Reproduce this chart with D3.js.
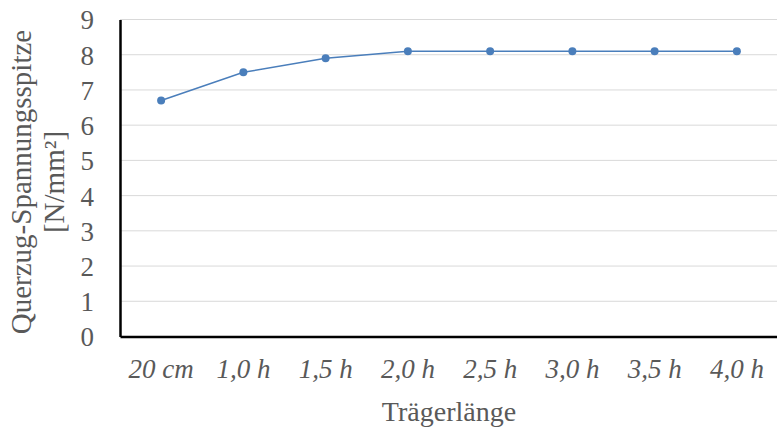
<!DOCTYPE html>
<html>
<head>
<meta charset="utf-8">
<script src="https://cdn.jsdelivr.net/npm/d3@7"></script>
<style>
  body { margin: 0; background: #fff; }
</style>
</head>
<body>
<svg id="dessin" width="777" height="432"></svg>
<script>
let categories = ["20 cm", "1,0 h", "1,5 h", "2,0 h", "2,5 h", "3,0 h", "3,5 h", "4,0 h"];
let valeurs = [6.7, 7.5, 7.9, 8.1, 8.1, 8.1, 8.1, 8.1];
let ticksY = [0, 1, 2, 3, 4, 5, 6, 7, 8, 9];

const police = "'Liberation Serif', 'DejaVu Serif', serif";
const gris = "#595959";
const gauche = 120, droite = 778, haut = 19.5, bas = 336.5;

const svg = d3.select("#dessin");

const x = d3.scaleBand().domain(categories).range([gauche, droite]);
const y = d3.scaleLinear().domain([0, 9]).range([bas, haut]);

// grille
svg.append("g")
  .selectAll("line")
  .data(ticksY.filter(t => t > 0))
  .enter()
  .append("line")
  .attr("x1", gauche).attr("x2", droite)
  .attr("y1", d => y(d)).attr("y2", d => y(d))
  .style("stroke", "#d9d9d9")
  .style("stroke-width", 1);

// axe gauche
const axeG = svg.append("g")
  .attr("transform", `translate(${gauche},0)`)
  .call(d3.axisLeft(y).tickValues(ticksY).tickSize(0).tickPadding(26))
  .attr("font-family", police);
axeG.select(".domain").style("stroke", "#000").style("stroke-width", 2.5);
axeG.selectAll("text").attr("font-size", 27).attr("fill", gris).attr("dy", "0.35em");

// axe bas
const axeB = svg.append("g")
  .attr("transform", `translate(0,${bas})`)
  .call(d3.axisBottom(x).tickSize(0).tickPadding(22))
  .attr("font-family", police);
axeB.select(".domain").style("stroke", "#000").style("stroke-width", 2.5);
axeB.selectAll("text").attr("font-size", 27).attr("font-style", "italic").attr("fill", gris);

// ligne
svg.append("path")
  .datum(valeurs)
  .attr("d", d3.line().x((d, i) => x(categories[i]) + x.bandwidth() / 2).y(d => y(d)))
  .style("fill", "none")
  .style("stroke", "#4a7ebb")
  .style("stroke-width", 1.5);

svg.append("g")
  .selectAll("circle")
  .data(valeurs)
  .enter()
  .append("circle")
  .attr("cx", (d, i) => x(categories[i]) + x.bandwidth() / 2)
  .attr("cy", d => y(d))
  .attr("r", 4)
  .style("fill", "#4a7ebb");

// titres
svg.append("text")
  .attr("x", (gauche + droite) / 2)
  .attr("y", 421)
  .attr("text-anchor", "middle")
  .attr("font-family", police)
  .attr("font-size", 28)
  .attr("fill", gris)
  .text("Trägerlänge");

const titreY = svg.append("text")
  .attr("transform", "translate(0,182) rotate(-90)")
  .attr("text-anchor", "middle")
  .attr("font-family", police)
  .attr("font-size", 29)
  .attr("fill", gris);
titreY.append("tspan").attr("x", 0).attr("y", 31).text("Querzug-Spannungsspitze");
titreY.append("tspan").attr("x", 0).attr("y", 64).text("[N/mm²]");
</script>
</body>
</html>
